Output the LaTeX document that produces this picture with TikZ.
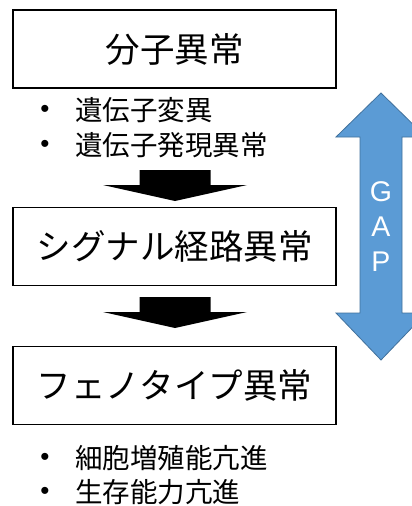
\documentclass[tikz,border=0pt]{standalone}
\usepackage{fontspec}
\setmainfont{Liberation Sans}
\newfontfamily\cjk{Noto Sans CJK JP}
\newfontfamily\lat{Liberation Sans}
\definecolor{gapfill}{HTML}{5B9BD5}
\definecolor{gapline}{HTML}{41719C}
\tikzset{
  stagebox/.style={draw=black, line width=1.3pt, minimum width=323pt, minimum height=78pt, inner sep=0pt, font=\cjk\fontsize{34.5}{40}\selectfont},
  bullettext/.style={anchor=west, inner sep=0pt, font=\cjk\fontsize{27.5}{30}\selectfont},
  bulletdot/.style={inner sep=0pt, font=\lat\fontsize{26}{28}\selectfont},
  blockarrow/.style={fill=black},
  gaparrow/.style={fill=gapfill, draw=gapline, line width=0.8pt},
  gaptext/.style={text=white, inner sep=0pt, font=\lat\fontsize{28.5}{32}\selectfont}
}
\begin{document}
\begin{tikzpicture}[x=1pt,y=-1pt]
\useasboundingbox (0,0) rectangle (412,506);
\clip (0,0) rectangle (412,506);
\fill[white] (0,0) rectangle (412,506);

\node[stagebox] (b1) at (174.5,49) {分子異常};
\node[stagebox] (b2) at (174.5,246.5) {シグナル経路異常};
\node[stagebox] (b3) at (174.5,385.5) {フェノタイプ異常};

\node[bulletdot] (d1) at (45,111) {•};
\node[bullettext] (t1) at (75,110) {遺伝子変異};
\node[bulletdot] (d2) at (45,146) {•};
\node[bullettext] (t2) at (75,145) {遺伝子発現異常};
\node[bulletdot] (d3) at (45,459) {•};
\node[bullettext] (t3) at (75,458) {細胞増殖能亢進};
\node[bulletdot] (d4) at (45,493) {•};
\node[bullettext] (t4) at (75,492) {生存能力亢進};

% block arrows between boxes
\coordinate (a1) at (175,170);
\coordinate (a2) at (175,297);
\foreach \c in {a1,a2}{
  \fill[blockarrow] ([xshift=-35.5pt]\c) -- ([xshift=35.5pt]\c) -- ([xshift=35.5pt,yshift=-15pt]\c)
    -- ([xshift=72pt,yshift=-15pt]\c) -- ([yshift=-31pt]\c) -- ([xshift=-72pt,yshift=-15pt]\c)
    -- ([xshift=-35.5pt,yshift=-15pt]\c) -- cycle;
}

% GAP double arrow
\coordinate (gtop) at (381,93);
\coordinate (gbot) at (381,360);
\draw[gaparrow] (gtop) -- (426,137) -- (402,137) -- (402,313) -- (426,313) -- (gbot)
  -- (336,313) -- (360,313) -- (360,137) -- (336,137) -- cycle;
\node[gaptext] (g) at (381,192) {G};
\node[gaptext] (a) at (381,227) {A};
\node[gaptext] (p) at (381,262) {P};
\end{tikzpicture}
\end{document}
